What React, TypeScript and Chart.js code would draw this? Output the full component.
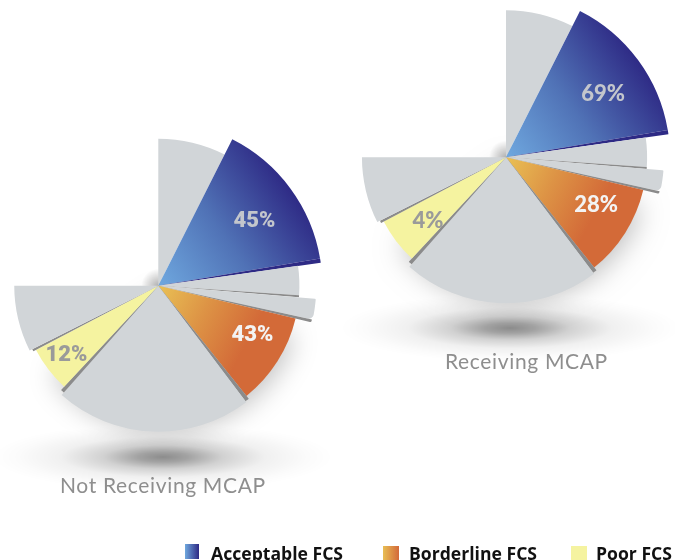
import React, { useEffect, useRef } from "react";
import { Chart, DoughnutController, registerables } from "chart.js";

// ---- data ----
const pieNames = ["Not Receiving MCAP", "Receiving MCAP"];
const legendLabels = ["Acceptable FCS", "Borderline FCS", "Poor FCS"];
const notReceivingPct = [45, 43, 12];
const receivingPct = [69, 28, 4];
// Every slice clockwise from 12 o'clock; "edge" slices are the thin 3-D sides.
const sliceKinds = ["gray", "acceptable", "acceptableEdge", "gray", "edge", "gray", "edge", "borderline", "edge", "gray", "edge", "poor", "edge", "gray", "empty"];
const sliceSweeps = [26.8, 53.6, 1.5, 12, 0.8, 7.7, 1, 37.9, 1.6, 78.5, 1.5, 19.3, 1, 26.7, 90];
const sliceReach = [1, 1.116, 1.116, 0.96, 0.96, 1.075, 1.07, 0.96, 0.985, 0.993, 0.97, 0.94, 0.96, 0.98, 0];

// ---- layout and style ----
const centres = [{ x: 158.3, y: 285.7 }, { x: 506, y: 157.3 }];
const baseRadius = 147;
const groundShadows = [{ x: 163, y: 457 }, { x: 510, y: 328 }];
const labelOffsets = [[96, -64], [94, 50], [-92, 70]];
const labelOffsetsRight = [[97, -63], [90, 48], [-78, 64]];
const labelColours = ["#C3C6CC", "#F3F3F3", "#9A9A9A"];
const labelFonts = ['900 22px Roboto', '900 22px Lato'];
const roundedSlice = 5;

const flat: Record<string, string> = {
  gray: "#D1D5D8",
  acceptableEdge: "#2E2A85",
  edge: "#8B8B8B",
  poor: "#F5F3A0",
  empty: "rgba(0,0,0,0)",
};

function gradientFor(ctx: CanvasRenderingContext2D, c: { x: number; y: number }, angle: number, reach: number, stops: string[]) {
  const a = (angle * Math.PI) / 180;
  const g = ctx.createLinearGradient(c.x, c.y, c.x + Math.sin(a) * reach, c.y - Math.cos(a) * reach);
  stops.forEach((s, i) => g.addColorStop(i / (stops.length - 1), s));
  return g;
}

class ReachPieController extends DoughnutController {
  static id = "reachPie";
  static defaults = {};
  updateElements(arcs: any[], start: number, count: number, mode: any) {
    super.updateElements(arcs, start, count, mode);
    const c = centres[this.index];
    for (let i = start; i < start + count; i++) {
      const arc = arcs[i];
      arc.x = c.x;
      arc.y = c.y;
      arc.innerRadius = 0;
      arc.outerRadius = sliceReach[i] * baseRadius;
    }
  }
}

Chart.register(...registerables, ReachPieController);

const shadowsPlugin = {
  id: "shadows",
  beforeDatasetsDraw(chart: any) {
    const ctx = chart.ctx as CanvasRenderingContext2D;
    groundShadows.forEach((s) => {
      ctx.save();
      ctx.translate(s.x, s.y);
      ctx.scale(1, 0.2);
      const g = ctx.createRadialGradient(0, 0, 0, 0, 0, 170);
      g.addColorStop(0, "rgba(0,0,0,0.45)");
      g.addColorStop(0.15, "rgba(0,0,0,0.36)");
      g.addColorStop(0.35, "rgba(0,0,0,0.18)");
      g.addColorStop(0.6, "rgba(0,0,0,0.06)");
      g.addColorStop(0.85, "rgba(0,0,0,0.015)");
      g.addColorStop(1, "rgba(0,0,0,0)");
      ctx.fillStyle = g;
      ctx.beginPath();
      ctx.arc(0, 0, 170, 0, Math.PI * 2);
      ctx.fill();
      ctx.restore();
    });
    centres.forEach((c) => {
      // soft shadow under the lower half of the pie
      ctx.save();
      ctx.shadowColor = "rgba(0,0,0,0.26)";
      ctx.shadowBlur = 28;
      ctx.shadowOffsetX = 5;
      ctx.shadowOffsetY = 8;
      ctx.fillStyle = "#D1D5D8";
      ctx.beginPath();
      ctx.moveTo(c.x, c.y);
      ctx.arc(c.x, c.y, 137, Math.PI * 0.1, Math.PI * 0.8);
      ctx.closePath();
      ctx.fill();
      ctx.restore();
      // small shadow round the hub
      const h = ctx.createRadialGradient(c.x, c.y, 0, c.x, c.y, 17);
      h.addColorStop(0, "rgba(0,0,0,0.28)");
      h.addColorStop(1, "rgba(0,0,0,0)");
      ctx.fillStyle = h;
      ctx.beginPath();
      ctx.arc(c.x, c.y, 17, 0, Math.PI * 2);
      ctx.fill();
    });
  },
};

const percentPlugin = {
  id: "percentLabels",
  afterDatasetsDraw(chart: any) {
    const ctx = chart.ctx as CanvasRenderingContext2D;
    [notReceivingPct, receivingPct].forEach((pcts, p) => {
      const offs = p === 0 ? labelOffsets : labelOffsetsRight;
      pcts.forEach((v, i) => {
        ctx.save();
        ctx.font = labelFonts[p];
        ctx.fillStyle = labelColours[i];
        ctx.textAlign = "center";
        ctx.textBaseline = "middle";
        ctx.fillText(`${v}%`, centres[p].x + offs[i][0], centres[p].y + offs[i][1]);
        ctx.restore();
      });
    });
  },
};

const captionStyle: React.CSSProperties = {
  position: "absolute",
  font: "400 21px Lato, sans-serif",
  letterSpacing: "0.65px",
  color: "#8E8E8E",
  whiteSpace: "nowrap",
  lineHeight: "24px",
};
const legendText: React.CSSProperties = {
  position: "absolute",
  top: 543,
  font: "700 17.6px 'Open Sans', sans-serif",
  color: "#111",
  whiteSpace: "nowrap",
  lineHeight: "20px",
};
const swatches = [
  { left: 185, top: 544, width: 14, height: 15, background: "linear-gradient(90deg,#6FA8DE,#2E2A85)" },
  { left: 383, top: 546, width: 16, height: 14, background: "linear-gradient(90deg,#E8BE54,#D3693A)" },
  { left: 571, top: 546, width: 16, height: 14, background: "#F5F3A0" },
];
const legendTextLeft = [211, 409, 596];
const captionPos = [{ left: 60, top: 473 }, { left: 445, top: 349 }];

export default function App() {
  const ref = useRef<HTMLCanvasElement>(null);
  useEffect(() => {
    const ctx = ref.current!.getContext("2d")!;
    const paint = (pie: number, kind: string) => {
      if (kind === "acceptable") return gradientFor(ctx, centres[pie], 55, 165, ["#6FA8DF", "#5072B6", "#2E2A85"]);
      if (kind === "borderline") return gradientFor(ctx, centres[pie], 118, 105, ["#E9C155", "#DD9345", "#D36A38"]);
      return flat[kind];
    };
    const chart = new Chart(ref.current!, {
      type: "reachPie" as any,
      data: {
        labels: sliceKinds,
        datasets: pieNames.map((name, pie) => ({
          label: name,
          data: sliceSweeps,
          backgroundColor: sliceKinds.map((k) => paint(pie, k)),
          borderWidth: 0,
          borderRadius: (c: any) =>
            c.dataIndex === roundedSlice
              ? { outerStart: 1, outerEnd: 5, innerStart: 0, innerEnd: 0 }
              : c.dataIndex === roundedSlice + 1
              ? { outerStart: 0, outerEnd: 2, innerStart: 0, innerEnd: 0 }
              : 0,
        })),
      },
      options: {
        responsive: false,
        animation: false,
        events: [],
        plugins: { legend: { display: false }, tooltip: { enabled: false } },
      } as any,
      plugins: [shadowsPlugin, percentPlugin],
    });
    return () => chart.destroy();
  }, []);
  return (
    <div style={{ position: "absolute", left: 0, top: 0, width: 675, height: 560, overflow: "hidden", background: "#fff" }}>
      <canvas ref={ref} width={675} height={560} style={{ display: "block" }} />
      {pieNames.map((n, i) => (
        <div key={n} style={{ ...captionStyle, ...captionPos[i] }}>{n}</div>
      ))}
      {legendLabels.map((l, i) => (
        <React.Fragment key={l}>
          <div style={{ position: "absolute", ...swatches[i] }} />
          <div style={{ ...legendText, left: legendTextLeft[i] }}>{l}</div>
        </React.Fragment>
      ))}
    </div>
  );
}
